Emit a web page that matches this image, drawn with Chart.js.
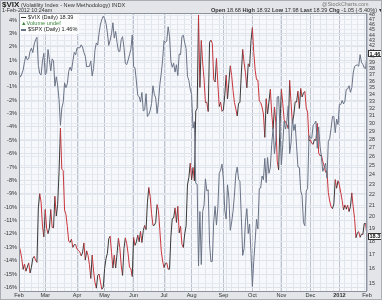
<!DOCTYPE html>
<html><head><meta charset="utf-8">
<script src="https://cdn.jsdelivr.net/npm/chart.js@4.4.1/dist/chart.umd.min.js"></script>
<style>
html,body{margin:0;padding:0;background:#e3e5e9;}
#wrap{position:relative;width:382px;height:300px;overflow:hidden;font-family:"Liberation Sans",Arial,sans-serif;color:#222;}
canvas{position:absolute;left:0;top:0;}
.t{position:absolute;white-space:nowrap;line-height:1;}
#frame{position:absolute;left:0;top:0;width:380px;height:298px;border:1px solid #a9adb4;pointer-events:none;}
#legend{position:absolute;left:20px;top:14px;background:rgba(255,255,255,0.85);padding:0 2px 1px 1px;font-size:5.6px;line-height:6.2px;}
#legend .dash{display:inline-block;width:5px;height:1.5px;vertical-align:middle;margin-right:2px;}
</style></head>
<body>
<div id="wrap">
<canvas id="c" width="382" height="300"></canvas>
<div class="t" style="left:2px;top:1px;font-size:8px;font-weight:bold;">$VIX</div>
<div class="t" style="left:21px;top:2.5px;font-size:5.6px;color:#333;">(Volatility Index - New Methodology) INDX</div>
<div class="t" style="left:2px;top:8px;font-size:5.4px;color:#333;">1-Feb-2012 10:24am</div>
<div class="t" style="left:322px;top:2px;font-size:5.4px;color:#777;">@StockCharts.com</div>
<div class="t" id="ohlc" style="left:211px;top:8px;font-size:5.6px;color:#333;"></div>
<div id="legend">
 <div><span class="dash" style="background:#333"></span>$VIX (Daily) <span id="lv"></span></div>
 <div style="color:#3c8a3c">&#9650;Volume undef</div>
 <div><span class="dash" style="background:#6a7386"></span>$SPX (Daily) <span id="ls"></span></div>
</div>
<div id="frame"></div>
</div>
<script>
// ---- data ----
const monthKeys = ["2011-02","2011-03","2011-04","2011-05","2011-06","2011-07","2011-08","2011-09","2011-10","2011-11","2011-12","2012-01","2012-02"];
const monthNames = ["Feb","Mar","Apr","May","Jun","Jul","Aug","Sep","Oct","Nov","Dec","2012","Feb"];
const monthDays = [
 [1,2,3,4,7,8,9,10,11,14,15,16,17,18,22,23,24,25,28],
 [1,2,3,4,7,8,9,10,11,14,15,16,17,18,21,22,23,24,25,28,29,30,31],
 [1,4,5,6,7,8,11,12,13,14,15,18,19,20,21,25,26,27,28,29],
 [2,3,4,5,6,9,10,11,12,13,16,17,18,19,20,23,24,25,26,27,31],
 [1,2,3,6,7,8,9,10,13,14,15,16,17,20,21,22,23,24,27,28,29,30],
 [1,5,6,7,8,11,12,13,14,15,18,19,20,21,22,25,26,27,28,29],
 [1,2,3,4,5,8,9,10,11,12,15,16,17,18,19,22,23,24,25,26,29,30,31],
 [1,2,6,7,8,9,12,13,14,15,16,19,20,21,22,23,26,27,28,29,30],
 [3,4,5,6,7,10,11,12,13,14,17,18,19,20,21,24,25,26,27,28,31],
 [1,2,3,4,7,8,9,10,11,14,15,16,17,18,21,22,23,25,28,29,30],
 [1,2,5,6,7,8,9,12,13,14,15,16,19,20,21,22,23,27,28,29,30],
 [3,4,5,6,9,10,11,12,13,17,18,19,20,23,24,25,26,27,30,31],
 [1]
];
// $SPX performance (%), daily
const spxPct = [
 0.00,-0.27,-0.04,0.25,0.88,1.30,1.02,1.09,1.65,1.89,1.56,2.20,2.51,2.71,0.60,-0.01,-0.11,0.94,1.50,
 -0.10,0.07,1.79,1.04,0.19,1.09,0.95,-0.95,-0.25,-0.86,-1.97,-3.88,-2.59,-2.17,-0.70,-1.06,-0.77,0.16,0.47,0.20,0.91,1.58,1.39,
 1.90,1.93,1.91,2.14,1.98,1.57,1.29,0.50,0.52,0.53,0.92,-0.19,0.38,1.74,2.28,2.12,3.03,3.68,4.04,4.28,
 4.10,3.75,3.04,2.10,2.49,2.96,3.79,2.64,3.14,2.31,1.67,1.64,2.53,2.75,1.96,0.75,0.66,0.99,1.38,1.80,2.88,
 0.53,0.41,-0.57,-1.64,-1.73,-2.14,-1.42,-2.80,-2.73,-1.51,-3.22,-3.06,-2.76,-2.24,-0.92,-1.56,-1.84,-2.99,-2.10,-0.84,-0.01,1.00,
 2.45,2.32,2.42,3.49,2.77,0.91,0.46,0.77,0.10,0.65,-0.16,1.46,1.40,2.77,2.86,2.28,1.86,-0.21,-0.53,-1.17,
 -1.58,-4.09,-3.61,-8.22,-8.28,-14.39,-10.33,-14.29,-10.32,-9.85,-7.88,-8.78,-8.70,-12.77,-14.08,-14.05,-11.11,-9.94,-11.34,-10.00,-7.46,-7.24,-6.78,
 -7.89,-10.22,-10.89,-8.33,-9.31,-11.73,-11.11,-10.30,-9.09,-7.53,-7.00,-7.92,-8.07,-10.77,-13.61,-13.09,-11.06,-10.11,-11.97,-11.26,-13.47,
 -15.93,-14.04,-12.51,-10.91,-11.63,-8.62,-8.57,-7.67,-7.95,-6.35,-8.16,-6.29,-7.47,-7.05,-5.30,-4.08,-6.01,-5.02,-1.76,-1.72,-4.15,
 -6.83,-5.33,-3.55,-4.16,-3.55,-2.42,-6.00,-5.19,-3.35,-4.27,-3.81,-5.41,-6.99,-7.03,-8.77,-9.14,-11.15,-11.39,-8.80,-8.60,-4.64,
 -4.82,-4.84,-3.86,-3.76,-3.56,-5.60,-4.01,-5.44,-6.26,-7.32,-7.02,-6.72,-7.82,-5.07,-4.88,-4.10,-3.23,-3.22,-4.43,-3.41,-3.82,
 -2.33,-2.32,-2.03,-2.28,-2.06,-1.19,-1.16,-0.92,-1.41,-1.06,0.03,0.53,0.60,0.64,0.54,1.41,0.83,0.67,0.41,0.37,
 1.46
];
// $VIX close, daily
const vixClose = [
 17.63,17.30,16.69,15.93,16.31,15.81,16.09,16.39,15.69,16.08,16.72,16.86,16.59,16.43,20.80,22.13,21.32,19.22,18.35,
 20.66,19.06,18.60,19.06,20.66,19.12,19.08,21.88,20.08,21.13,24.32,29.40,24.62,24.44,20.61,20.22,19.17,18.00,17.91,18.16,17.53,17.74,17.74,
 17.40,17.31,17.20,16.90,17.11,17.87,16.59,17.27,16.92,16.27,15.32,16.96,15.83,15.07,14.69,15.52,15.62,15.08,14.62,14.75,
 15.99,16.70,17.08,18.20,18.40,17.16,16.03,16.95,16.03,17.07,18.24,17.52,16.23,15.52,17.43,18.27,17.82,17.07,16.09,15.98,15.45,
 18.30,17.68,17.95,18.49,17.96,18.79,17.90,18.86,19.28,18.93,21.32,22.73,21.85,20.30,19.29,19.29,19.55,21.10,20.56,18.87,17.27,16.52,
 16.06,16.34,16.39,15.95,15.95,18.39,19.87,19.91,20.80,19.53,20.95,18.67,19.21,17.77,17.52,18.59,19.25,22.98,23.74,25.25,
 23.50,24.79,23.38,31.66,32.00,48.00,35.06,42.99,39.00,36.36,32.85,32.88,31.58,42.67,43.05,42.44,36.27,35.90,39.76,35.59,32.28,32.89,31.62,
 31.82,33.92,37.00,33.38,35.91,38.52,36.91,34.60,32.86,31.97,30.98,32.73,32.86,37.32,41.35,39.00,37.37,35.00,38.84,38.38,42.96,
 45.45,40.82,37.81,36.27,36.20,33.04,32.86,32.21,31.26,28.24,33.39,31.26,32.96,34.78,31.32,29.26,32.22,30.07,25.46,24.53,29.96,
 34.77,32.74,30.50,30.16,29.85,29.32,36.16,32.81,30.04,31.13,32.95,32.91,34.51,32.00,34.91,33.64,34.22,34.47,32.08,31.51,27.80,
 27.95,27.52,27.41,28.03,27.84,30.00,26.38,26.08,26.15,25.41,24.93,24.29,24.37,22.22,21.43,20.89,20.73,21.16,23.52,22.65,23.40,
 22.97,22.22,21.48,20.63,21.07,20.69,21.05,20.47,20.91,22.20,20.89,19.87,18.28,18.67,18.76,18.31,18.57,18.53,19.44,19.44,
 18.39
];
const pctTicks = [4,3,2,1,0,-1,-2,-3,-4,-5,-6,-7,-8,-9,-10,-11,-12,-13,-14,-15,-16];
const vixTicks = [15,16,17,18,19,20,21,22,23,24,25,26,27,28,29,30,31,32,33,34,35,36,37,38,39,40,41,42,43,44,45,46,47,48];
const quote = {open:"18.68", high:"18.92", low:"17.98", last:"18.39", chg:"-1.05 (-5.40%)"};

// ---- build categories ----
const dates = [], monthLabel = [], isMonthStart = [], isWeekStart = [];
monthKeys.forEach((mk, mi) => {
  monthDays[mi].forEach((d, di) => {
    const s = mk + "-" + String(d).padStart(2, "0");
    dates.push(s);
    monthLabel.push(di === 0 ? monthNames[mi] : "");
    isMonthStart.push(di === 0);
  });
});
for (let i = 0; i < dates.length; i++) {
  if (i === 0) { isWeekStart.push(true); continue; }
  const a = new Date(dates[i - 1] + "T00:00:00Z"), b = new Date(dates[i] + "T00:00:00Z");
  isWeekStart.push(b.getUTCDay() <= a.getUTCDay() || (b - a) > 4 * 864e5);
}

const lastVix = vixClose[vixClose.length - 1];
const lastSpx = spxPct[spxPct.length - 1];
document.getElementById("lv").textContent = lastVix.toFixed(2);
document.getElementById("ls").textContent = lastSpx.toFixed(2) + "%";
document.getElementById("ohlc").innerHTML =
  "<b>Open</b> " + quote.open + " <b>High</b> " + quote.high + " <b>Low</b> " + quote.low +
  " <b>Last</b> " + quote.last + " <b>Chg</b> " + quote.chg + " &#9662;";

const FONT = "'Liberation Sans', Arial, sans-serif";
const RED = "#c9363e", DARK = "#3a3a3a", GRAYLINE = "#6a7386";

const bgPlugin = {
  id: "bg",
  beforeDraw(chart) {
    const {ctx, chartArea: a} = chart;
    ctx.save();
    ctx.fillStyle = "#f7f8fb";
    ctx.fillRect(a.left, a.top, a.right - a.left, a.bottom - a.top);
    ctx.restore();
  },
  afterDraw(chart) {
    const {ctx, chartArea: a} = chart;
    ctx.save();
    ctx.strokeStyle = "#8d939c";
    ctx.lineWidth = 1;
    ctx.strokeRect(a.left + 0.5, a.top + 0.5, a.right - a.left - 1, a.bottom - a.top);
    // value boxes on the right axis
    const boxes = [
      {y: chart.scales.yPct.getPixelForValue(lastSpx), txt: lastSpx.toFixed(2)},
      {y: chart.scales.yVix.getPixelForValue(lastVix), txt: lastVix.toFixed(2)}
    ];
    ctx.font = "bold 5.6px " + FONT;
    boxes.forEach(b => {
      const x = a.right + 1, w = 14, h = 7;
      ctx.fillStyle = "#ffffff";
      ctx.fillRect(x, b.y - h / 2, w, h);
      ctx.strokeStyle = "#333";
      ctx.strokeRect(x + 0.5, Math.round(b.y - h / 2) + 0.5, w - 1, h - 1);
      ctx.fillStyle = "#111";
      ctx.textBaseline = "middle";
      ctx.textAlign = "left";
      ctx.fillText(b.txt, x + 1.5, b.y + 0.5);
    });
    ctx.restore();
  }
};

new Chart(document.getElementById("c"), {
  type: "line",
  data: {
    labels: dates,
    datasets: [
      {label: "$SPX", data: spxPct, yAxisID: "yPct", borderColor: GRAYLINE, borderWidth: 1,
       pointRadius: 0, tension: 0, fill: false},
      {label: "$VIX", data: vixClose, yAxisID: "yVix", borderColor: DARK, borderWidth: 1,
       pointRadius: 0, tension: 0, fill: false,
       segment: {borderColor: c => (c.p1.parsed.y >= c.p0.parsed.y ? DARK : RED)}}
    ]
  },
  options: {
    responsive: false, animation: false, devicePixelRatio: 1,
    layout: {padding: {top: 13, left: 0, right: 0, bottom: 0}},
    plugins: {legend: {display: false}, tooltip: {enabled: false}},
    scales: {
      x: {
        type: "category", offset: false,
        grid: {
          drawTicks: false, lineWidth: 1,
          color: c => (c.index !== undefined && isMonthStart[c.index]) ? "#bcc3ce" :
                      (c.index !== undefined && isWeekStart[c.index]) ? "#e1e5ec" : "rgba(0,0,0,0)"
        },
        border: {display: false},
        ticks: {
          autoSkip: false, maxRotation: 0, minRotation: 0, padding: 1.5, color: "#333",
          font: c => ({family: FONT, size: 5.6, weight: monthLabel[c.index] === "2012" ? "bold" : "normal"}),
          callback: (v, i) => monthLabel[i]
        },
        afterFit: s => { s.height = 9; }
      },
      yPct: {
        type: "linear", position: "left", min: -16.27, max: 4.52,
        afterBuildTicks: s => { s.ticks = pctTicks.map(v => ({value: v})); },
        grid: {color: "#dfe3ea", drawTicks: false, lineWidth: 1},
        border: {display: false},
        ticks: {autoSkip: false, padding: 2, color: "#333", font: {family: FONT, size: 5.6},
                callback: v => v + "%"},
        afterFit: s => { s.width = 19; }
      },
      yVix: {
        type: "logarithmic", position: "right", min: 14.51, max: 48.42,
        afterBuildTicks: s => { s.ticks = vixTicks.map(v => ({value: v})); },
        grid: {color: "#e6e9ef", drawTicks: false, lineWidth: 1},
        border: {display: false},
        ticks: {autoSkip: false, padding: 2, color: "#333", font: {family: FONT, size: 5.2},
                callback: v => String(v)},
        afterFit: s => { s.width = 15; }
      }
    }
  },
  plugins: [bgPlugin]
});
</script>
</body></html>
